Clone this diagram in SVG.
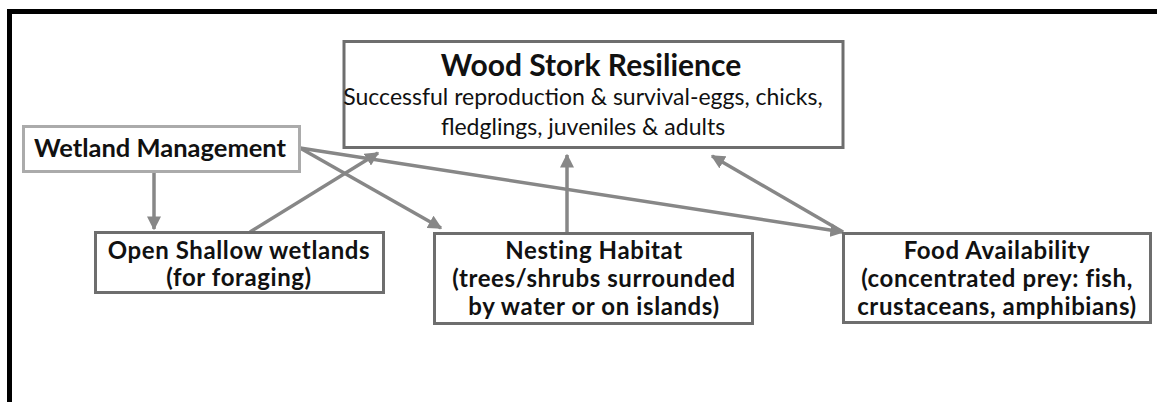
<svg xmlns="http://www.w3.org/2000/svg" width="1157" height="402" viewBox="0 0 1157 402">
<style>
.bg{fill:#ffffff}
.frame{fill:none;stroke:#000;stroke-width:5}
.box{fill:#fff;stroke:#6e6e6e;stroke-width:3}
.lbox{fill:#fff;stroke:#ababab;stroke-width:3}
.t{font-family:Lato,"Liberation Sans",sans-serif;fill:#111;text-anchor:middle}
.b{font-weight:bold}
.n{font-size:24px;font-weight:bold;letter-spacing:0.6px}
.edge{stroke:#878787;stroke-width:3.5;fill:none}
</style>
<defs>
<marker id="ah" viewBox="0 0 10 10" refX="9" refY="5" markerWidth="4" markerHeight="4" orient="auto" markerUnits="strokeWidth">
<path d="M0,0 L10,5 L0,10 z" fill="#878787"/>
</marker>
</defs>
<rect class="bg" x="0" y="0" width="1157" height="402"/>
<rect class="frame" x="9.5" y="11.5" width="1200" height="500"/>
<g id="connectors">
<line class="edge" x1="154" y1="173" x2="154" y2="229" marker-end="url(#ah)"/>
<line class="edge" x1="250" y1="232" x2="378" y2="153" marker-end="url(#ah)"/>
<line class="edge" x1="300" y1="148" x2="441" y2="228" marker-end="url(#ah)"/>
<line class="edge" x1="300" y1="148" x2="843" y2="232" marker-end="url(#ah)"/>
<line class="edge" x1="567" y1="233" x2="567" y2="155" marker-end="url(#ah)"/>
<line class="edge" x1="843" y1="232" x2="712" y2="156" marker-end="url(#ah)"/>
</g>
<g id="wood-stork">
<rect class="box" x="344" y="41.5" width="499" height="106"/>
<text class="t b" x="591" y="76" font-size="30">Wood Stork Resilience</text>
<text class="t" x="583" y="105" font-size="23">Successful reproduction &amp; survival-eggs, chicks,</text>
<text class="t" x="583" y="135" font-size="23">fledglings, juveniles &amp; adults</text>
</g>
<g id="wetland">
<rect class="lbox" x="23.5" y="126.5" width="276" height="45"/>
<text class="t b" x="160" y="157" font-size="25.5">Wetland Management</text>
</g>
<g id="open-shallow">
<rect class="box" x="95.5" y="232.5" width="288" height="60"/>
<text class="t n" x="239" y="259">Open Shallow wetlands</text>
<text class="t n" x="239" y="286">(for foraging)</text>
</g>
<g id="nesting">
<rect class="box" x="434.5" y="233.5" width="318" height="90"/>
<text class="t n" x="594" y="259">Nesting Habitat</text>
<text class="t n" x="594" y="287">(trees/shrubs surrounded</text>
<text class="t n" x="594" y="315">by water or on islands)</text>
</g>
<g id="food">
<rect class="box" x="843.5" y="233.5" width="307" height="89"/>
<text class="t n" x="997" y="259">Food Availability</text>
<text class="t n" x="997" y="287">(concentrated prey: fish,</text>
<text class="t n" x="997" y="315">crustaceans, amphibians)</text>
</g>
</svg>
